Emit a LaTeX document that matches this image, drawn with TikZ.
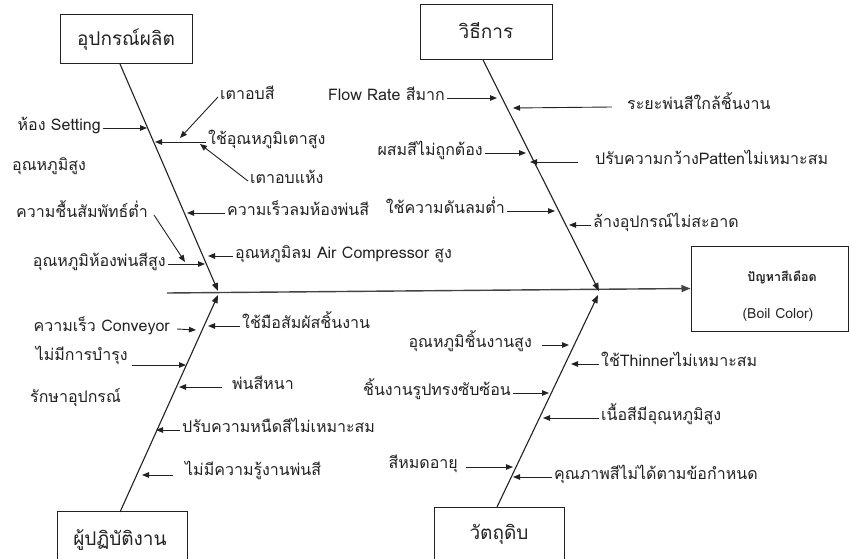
\documentclass[tikz,border=0pt]{standalone}
\usepackage{fontspec}
\setmainfont[Script=Thai]{Loma}
\usetikzlibrary{arrows.meta}
\definecolor{ink}{HTML}{222222}
\begin{document}
\begin{tikzpicture}[x=1pt,y=-1pt,
  lbl/.style={font=\fontsize{16}{18}\selectfont, text=ink, inner xsep=2pt, inner ysep=1pt},
  cat/.style={font=\fontsize{19}{21}\selectfont, text=ink, inner sep=0pt},
  catbox/.style={draw=ink, line width=1pt},
  bone/.style={draw=ink, line width=1.1pt, -{Triangle[length=8pt,width=6pt]}},
  arr/.style={draw=ink, line width=0.9pt, -{Triangle[length=7pt,width=5.5pt]}}]
\clip (0,0) rectangle (849,559);
\fill[white] (0,0) rectangle (849,559);

% category boxes
\draw[catbox] (60,15) rectangle (192,64);
\node[cat] (eq) at (126,40) {อุปกรณ์ผลิต};
\draw[catbox] (420,5) rectangle (552,60);
\node[cat] (meth) at (486,31) {วิธีการ};
\draw[catbox] (57,511) rectangle (187,575);
\node[cat] (op) at (120,540) {ผู้ปฏิบัติงาน};
\draw[catbox] (434,507) rectangle (564,575);
\node[cat] (mat) at (499,534) {วัตถุดิบ};

% problem box (head of the fish)
\node[draw=ink, line width=1pt, minimum width=157pt, minimum height=85pt, inner sep=0pt] (prob) at (769.5,288.5) {};
\node[font=\fontsize{12.5}{14}\selectfont\bfseries, text=ink, inner sep=0pt] (probth) at (782,277) {ปัญหาสีเดือด};
\node[font=\fontsize{14}{16}\selectfont, text=ink, inner sep=0pt] (proben) at (778,315) {(Boil Color)};

% spine
\coordinate (tail) at (167,293);
\draw[draw=ink!85, line width=1.4pt, -{Triangle[length=9pt,width=7pt]}] (tail) -- (prob.west);

% bones
\coordinate (b1s) at (120,64);  \coordinate (b1e) at (218,291);
\coordinate (b2s) at (483,60);  \coordinate (b2e) at (599,291);
\coordinate (b3s) at (120,512); \coordinate (b3e) at (218,295);
\coordinate (b4s) at (497,507); \coordinate (b4e) at (598,295);
\draw[bone] (b1s) -- (b1e);
\draw[bone] (b2s) -- (b2e);
\draw[bone] (b3s) -- (b3e);
\draw[bone] (b4s) -- (b4e);

% ---- equipment causes
\node[lbl, anchor=mid east] (hs) at (103,128) {ห้อง Setting};
\coordinate (hsE) at (147,128);
\draw[arr] (hs.mid east) -- (hsE);
\node[lbl, anchor=mid west] (hot) at (10,168) {อุณหภูมิสูง};
\node[lbl, anchor=mid west] (oven) at (218,97) {เตาอบสี};
\coordinate (ovenE) at (180,138);
\draw[arr] (oven.mid west) -- (ovenE);
\node[lbl, anchor=mid west] (ovt) at (206,142) {ใช้อุณหภูมิเตาสูง};
\coordinate (ovtE) at (155,142);
\draw[arr] (ovt.mid west) -- (ovtE);
\node[lbl, anchor=mid west] (dry) at (248,181) {เตาอบแห้ง};
\coordinate (dryE) at (200,144);
\draw[arr] (dry.mid west) -- (dryE);
\node[lbl, anchor=mid west] (wind) at (225,213) {ความเร็วลมห้องพ่นสี};
\coordinate (windE) at (187,213);
\draw[arr] (wind.mid west) -- (windE);
\node[lbl, anchor=mid east] (hum) at (150,215) {ความชื้นสัมพัทธ์ต่ำ};
\coordinate (humE) at (185,262);
\draw[arr] ([xshift=4pt]hum.mid east) -- (humE);
\node[lbl, anchor=mid east] (rt) at (168,264) {อุณหภูมิห้องพ่นสีสูง};
\coordinate (rtE) at (205,264);
\draw[arr] (rt.mid east) -- (rtE);
\node[lbl, anchor=mid west] (air) at (233,256) {อุณหภูมิลม Air Compressor สูง};
\coordinate (airE) at (208,256);
\draw[arr] (air.mid west) -- (airE);

% ---- method causes
\node[lbl, anchor=mid east] (flow) at (447,98) {Flow Rate สีมาก};
\coordinate (flowE) at (497,98);
\draw[arr] (flow.mid east) -- (flowE);
\node[lbl, anchor=mid west] (dist) at (625,107) {ระยะพ่นสีใกล้ชิ้นงาน};
\coordinate (distE) at (513,108);
\draw[arr] ([xshift=-13pt]dist.mid west) -- (distE);
\node[lbl, anchor=mid east] (mix) at (485,153) {ผสมสีไม่ถูกต้อง};
\coordinate (mixE) at (526,153);
\draw[arr] (mix.mid east) -- (mixE);
\node[lbl, anchor=mid west] (pat) at (593,162) {ปรับความกว้างPattenไม่เหมาะสม};
\coordinate (patE) at (530,162);
\draw[arr] ([xshift=-15pt]pat.mid west) -- (patE);
\node[lbl, anchor=mid east] (pres) at (507,211) {ใช้ความดันลมต่ำ};
\coordinate (presE) at (555,211);
\draw[arr] (pres.mid east) -- (presE);
\node[lbl, anchor=mid west] (wash) at (591,225) {ล้างอุปกรณ์ไม่สะอาด};
\coordinate (washE) at (569,225);
\draw[arr] (wash.mid west) -- (washE);

% ---- operator causes
\node[lbl, anchor=mid east] (conv) at (172,329) {ความเร็ว Conveyor};
\coordinate (convE) at (196,330);
\draw[arr] ([xshift=5pt]conv.mid east) -- (convE);
\node[lbl, anchor=mid west] (hand) at (240,326) {ใช้มือสัมผัสชิ้นงาน};
\coordinate (handE) at (208,326);
\draw[arr] (hand.mid west) -- (handE);
\node[lbl, anchor=mid east] (maint) at (130,358) {ไม่มีการบำรุง};
\coordinate (maintE) at (186,365);
\draw[arr] ([shift={(2pt,-7pt)}]maint.mid east) -- (maintE);
\node[lbl, anchor=mid west] (maint2) at (28,400) {รักษาอุปกรณ์};
\node[lbl, anchor=mid west] (thick) at (230,387) {พ่นสีหนา};
\coordinate (thickE) at (179,387);
\draw[arr] ([xshift=-8pt]thick.mid west) -- (thickE);
\node[lbl, anchor=mid west] (visc) at (180,430) {ปรับความหนืดสีไม่เหมาะสม};
\coordinate (viscE) at (156,430);
\draw[arr] (visc.mid west) -- (viscE);
\node[lbl, anchor=mid west] (know) at (183,473) {ไม่มีความรู้งานพ่นสี};
\coordinate (knowE) at (142,475);
\draw[arr] ([shift={(-10pt,-2pt)}]know.mid west) -- (knowE);

% ---- material causes
\node[lbl, anchor=mid east] (wp) at (534,345) {อุณหภูมิชิ้นงานสูง};
\coordinate (wpE) at (569,345);
\draw[arr] ([xshift=8pt]wp.mid east) -- (wpE);
\node[lbl, anchor=mid west] (thin) at (599,364) {ใช้Thinnerไม่เหมาะสม};
\coordinate (thinE) at (571,364);
\draw[arr] (thin.mid west) -- (thinE);
\node[lbl, anchor=mid east] (shape) at (513,393) {ชิ้นงานรูปทรงซับซ้อน};
\coordinate (shapeE) at (549,393);
\draw[arr] (shape.mid east) -- (shapeE);
\node[lbl, anchor=mid west] (pt) at (599,418) {เนื้อสีมีอุณหภูมิสูง};
\coordinate (ptE) at (543,418);
\draw[arr] (pt.mid west) -- (ptE);
\node[lbl, anchor=mid east] (exp) at (460,466) {สีหมดอายุ};
\coordinate (expE) at (513,467);
\draw[arr] ([shift={(6pt,-1pt)}]exp.mid east) -- (expE);
\node[lbl, anchor=mid west] (qual) at (552,477) {คุณภาพสีไม่ได้ตามข้อกำหนด};
\coordinate (qualE) at (513,477);
\draw[arr] (qual.mid west) -- (qualE);
\end{tikzpicture}
\end{document}
